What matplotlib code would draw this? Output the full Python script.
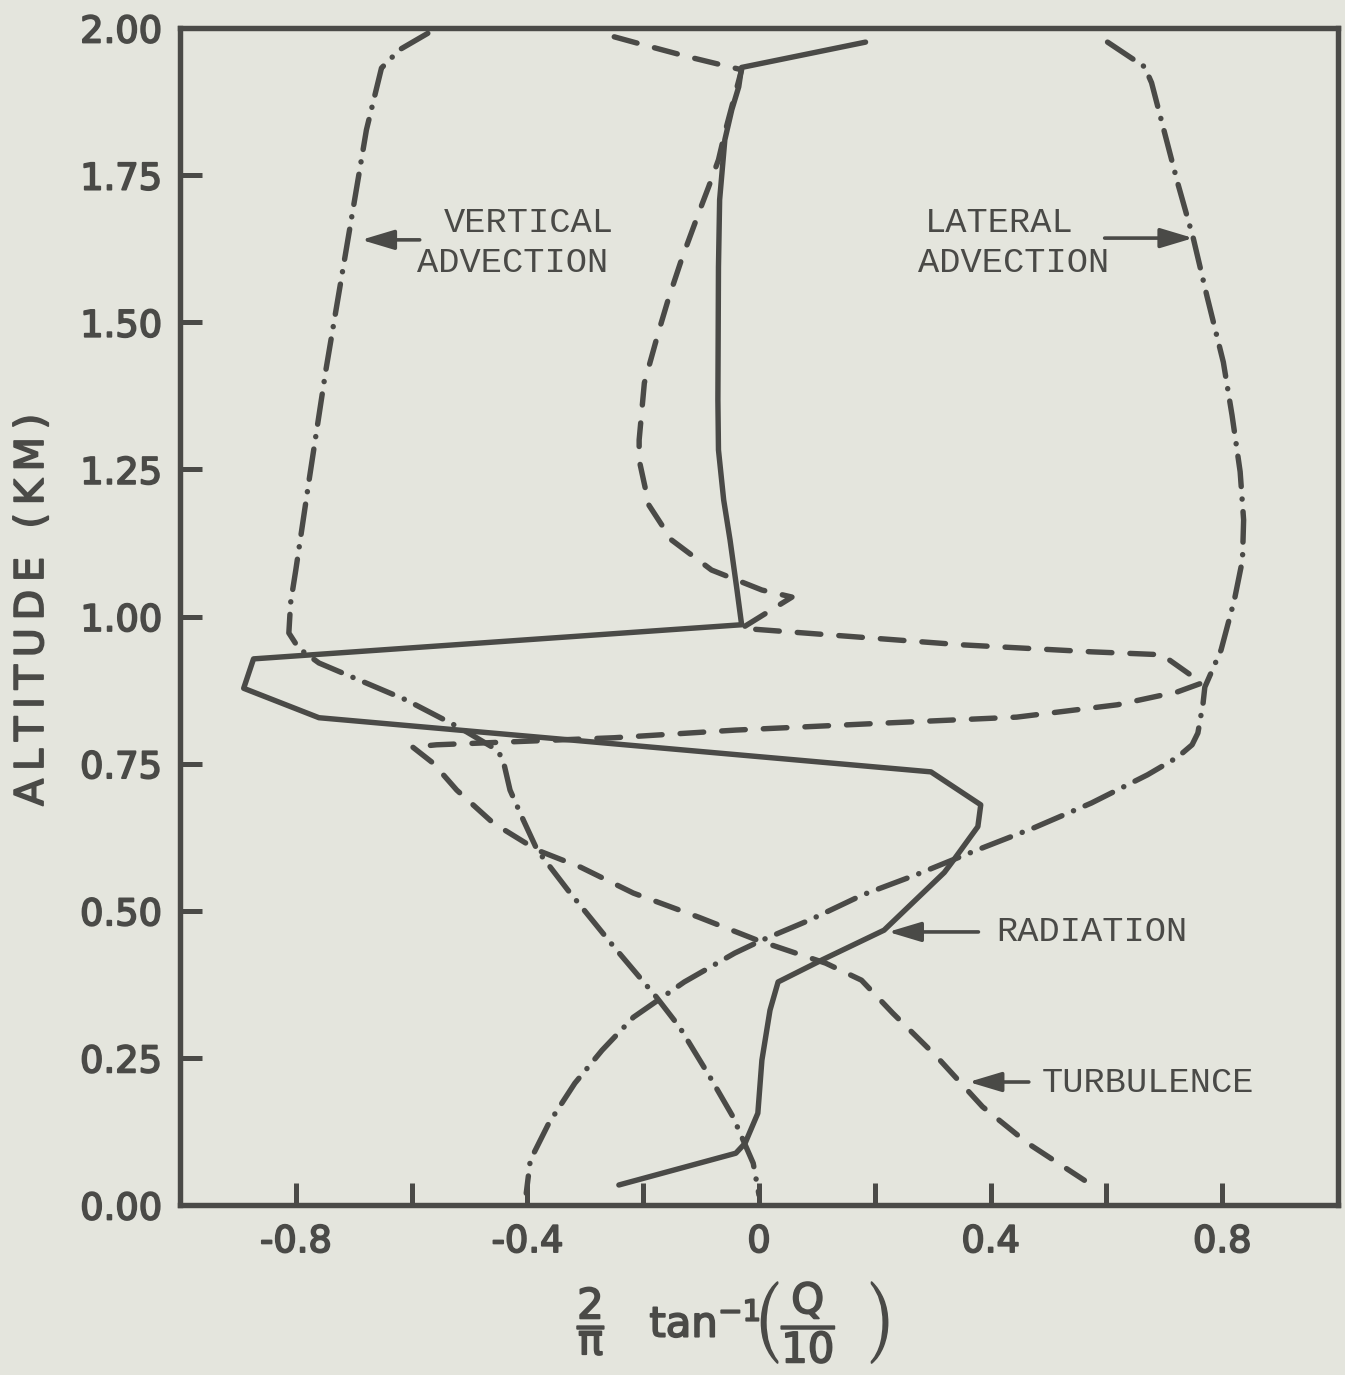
import matplotlib
matplotlib.use('Agg')
import matplotlib.pyplot as plt
import matplotlib.patheffects as pe

plt.rcParams['lines.scale_dashes'] = False
plt.rcParams['mathtext.fontset'] = 'dejavusans'
plt.rcParams['mathtext.default'] = 'regular'
plt.rcParams['axes.unicode_minus'] = False

BG = '#e4e5dd'
INK = '#4a4a47'

# ---------------- data ----------------
radiation_x = [0.184, -0.030, -0.035, -0.047, -0.059, -0.068, -0.070, -0.071, -0.070, -0.061,
               -0.050, -0.038, -0.030, -0.873, -0.890, -0.760, 0.297, 0.383, 0.378, 0.336,
               0.320, 0.216, 0.110, 0.033, 0.019, 0.005, -0.002, -0.024, -0.040, -0.242]
radiation_y = [1.976, 1.933, 1.900, 1.861, 1.810, 1.708, 1.594, 1.368, 1.283, 1.198,
               1.130, 1.045, 0.986, 0.928, 0.878, 0.828, 0.736, 0.680, 0.643, 0.586,
               0.565, 0.467, 0.417, 0.379, 0.331, 0.246, 0.156, 0.105, 0.088, 0.034]

turbulence_x = [-0.250, -0.198, -0.122, -0.030, -0.059, -0.070, -0.087, -0.104, -0.134, -0.157,
                -0.174, -0.198, -0.207, -0.207, -0.190, -0.151, -0.082, 0.005, 0.057, -0.030,
                0.348, 0.574, 0.696, 0.765, 0.723, 0.619, 0.445, 0.219, -0.040, -0.250,
                -0.557, -0.598, -0.563, -0.522, -0.459, -0.383, -0.308, -0.217, -0.104, -0.003,
                0.115, 0.177, 0.231, 0.308, 0.386, 0.464, 0.562]
turbulence_y = [1.985, 1.971, 1.951, 1.929, 1.822, 1.776, 1.730, 1.686, 1.606, 1.538,
                1.482, 1.397, 1.300, 1.266, 1.189, 1.130, 1.079, 1.045, 1.033, 0.980,
                0.952, 0.940, 0.935, 0.887, 0.872, 0.850, 0.829, 0.819, 0.807, 0.794,
                0.782, 0.778, 0.751, 0.705, 0.649, 0.603, 0.574, 0.530, 0.489, 0.450,
                0.411, 0.382, 0.326, 0.251, 0.167, 0.105, 0.042]

lateral_x = [0.602, 0.666, 0.678, 0.696, 0.723, 0.750, 0.774, 0.802, 0.817, 0.831,
             0.837, 0.835, 0.821, 0.798, 0.770, 0.767, 0.758, 0.748, 0.723, 0.671,
             0.574, 0.475, 0.376, 0.271, 0.179, 0.087, 0.005, -0.042, -0.129, -0.217,
             -0.271, -0.318, -0.363, -0.395, -0.402]
lateral_y = [1.976, 1.934, 1.907, 1.839, 1.737, 1.643, 1.543, 1.432, 1.342, 1.246,
             1.164, 1.096, 1.028, 0.943, 0.880, 0.853, 0.802, 0.782, 0.761, 0.731,
             0.683, 0.641, 0.603, 0.561, 0.527, 0.484, 0.450, 0.428, 0.379, 0.319,
             0.263, 0.207, 0.139, 0.076, 0.020]

vertical_x = [-0.572, -0.621, -0.652, -0.678, -0.713, -0.748, -0.777, -0.800, -0.809, -0.812,
              -0.795, -0.760, -0.609, -0.517, -0.452, -0.442, -0.430, -0.407, -0.383, -0.330,
              -0.250, -0.177, -0.137, -0.085, -0.045, -0.010, 0.000]
vertical_y = [1.991, 1.963, 1.932, 1.827, 1.623, 1.419, 1.232, 1.079, 1.023, 0.972,
              0.946, 0.921, 0.858, 0.811, 0.773, 0.756, 0.705, 0.654, 0.603, 0.535,
              0.438, 0.353, 0.302, 0.218, 0.150, 0.071, 0.017]

x_ticks = [-0.8, -0.6, -0.4, -0.2, 0.0, 0.2, 0.4, 0.6, 0.8]
x_ticklabels = ['-0.8', '', '-0.4', '', '0', '', '0.4', '', '0.8']
y_ticks = [0.0, 0.25, 0.5, 0.75, 1.0, 1.25, 1.5, 1.75, 2.0]
y_ticklabels = ['0.00', '0.25', '0.50', '0.75', '1.00', '1.25', '1.50', '1.75', '2.00']

# ---------------- figure ----------------
W, H = 1345, 1375
fig = plt.figure(figsize=(W / 100, H / 100), dpi=100, facecolor=BG)
L, R, T, B = 180, 1338, 28, 1205
ax = fig.add_axes([L / W, 1 - B / H, (R - L) / W, (B - T) / H])
ax.set_facecolor(BG)
ax.set_xlim(-1, 1)
ax.set_ylim(0, 2)

lw = 3.9
ax.plot(radiation_x, radiation_y, color=INK, lw=lw, solid_capstyle='round', solid_joinstyle='round')
ax.plot(turbulence_x, turbulence_y, color=INK, lw=lw, dashes=(17, 13), dash_capstyle='round',
        dash_joinstyle='round')
ax.plot(lateral_x, lateral_y, color=INK, lw=lw, dashes=(22, 9, 0.1, 9), dash_capstyle='round',
        dash_joinstyle='round')
ax.plot(vertical_x, vertical_y, color=INK, lw=lw, dashes=(22, 9, 0.1, 9), dash_capstyle='round',
        dash_joinstyle='round')

for s in ax.spines.values():
    s.set_linewidth(3.9)
    s.set_color(INK)

thick = [pe.withStroke(linewidth=1.3, foreground=INK)]

ax.set_xticks(x_ticks)
ax.set_xticklabels(x_ticklabels)
ax.set_yticks(y_ticks)
ax.set_yticklabels(y_ticklabels)
ax.tick_params(direction='in', length=16, width=3.6, color=INK, labelcolor=INK,
               labelsize=26.5, pad=13)
for lab in ax.get_xticklabels() + ax.get_yticklabels():
    lab.set_path_effects(thick)

# axis titles
fig.text(32 / W, 1 - 610 / H, '\u2009'.join('ALTITUDE (KM)'), rotation=90, ha='center',
         va='center', fontsize=28.5, color=INK, path_effects=thick)
fig.text(732 / W, 1 - 1322 / H,
         r'$\dfrac{2}{\pi}\ \ \ tan^{-1}\!\left(\dfrac{Q}{10}\ \ \right)$',
         ha='center', va='center', fontsize=30, color=INK, path_effects=thick)

# annotations
mono = dict(family='Liberation Mono', fontsize=25.5, color=INK, va='center', ha='left')
ax.text(-0.544, 1.670, 'VERTICAL', **mono)
ax.text(-0.590, 1.602, 'ADVECTION', **mono)
ax.text(0.287, 1.670, 'LATERAL', **mono)
ax.text(0.275, 1.602, 'ADVECTION', **mono)
ax.text(0.410, 0.464, 'RADIATION', **mono)
ax.text(0.489, 0.209, 'TURBULENCE', **mono)

ap = dict(arrowstyle='-|>,head_length=1.0,head_width=0.3', lw=2.6, color=INK,
          shrinkA=0, shrinkB=0, mutation_scale=20)
ax.annotate('', xy=(-0.687, 1.640), xytext=(-0.586, 1.640), arrowprops=ap)
ax.annotate('', xy=(0.750, 1.643), xytext=(0.597, 1.643), arrowprops=ap)
ax.annotate('', xy=(0.223, 0.464), xytext=(0.379, 0.464), arrowprops=ap)
ax.annotate('', xy=(0.362, 0.209), xytext=(0.466, 0.209), arrowprops=ap)

fig.savefig('out.png', dpi=100, facecolor=BG)
